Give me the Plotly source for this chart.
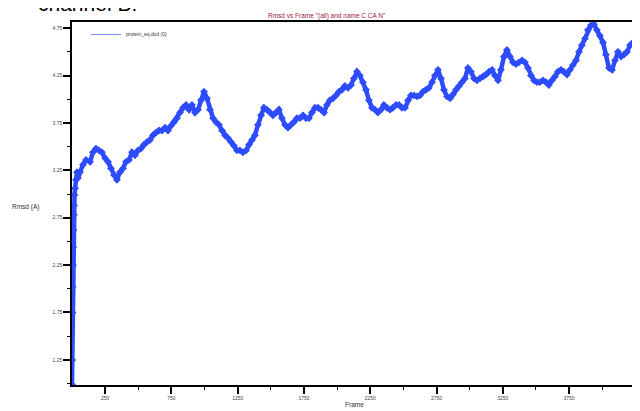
import plotly.graph_objects as go

frames = [0, 2, 4, 5, 8, 9, 11, 14, 15, 19, 23, 30, 38, 45, 60, 83, 106, 136, 158, 181, 204, 226, 249, 272, 294, 317, 339,
          362, 385, 407, 430, 453, 475, 498, 520, 543, 566, 588, 611, 634, 656, 679, 702, 724, 747, 770, 792, 815, 838,
          860, 883, 905, 928, 951, 973, 996, 1018, 1041, 1064, 1086, 1109, 1132, 1154, 1177, 1199, 1222, 1245, 1267,
          1290, 1313, 1335, 1358, 1380, 1403, 1426, 1448, 1471, 1494, 1516, 1539, 1561, 1584, 1607, 1629, 1652, 1675,
          1697, 1720, 1743, 1765, 1788, 1810, 1833, 1856, 1878, 1901, 1923, 1946, 1969, 1991, 2014, 2037, 2059, 2082,
          2105, 2127, 2150, 2172, 2195, 2218, 2240, 2263, 2286, 2308, 2331, 2353, 2376, 2399, 2421, 2444, 2467, 2489,
          2512, 2535, 2557, 2580, 2603, 2625, 2648, 2671, 2693, 2716, 2738, 2761, 2784, 2806, 2829, 2852, 2874, 2897,
          2920, 2942, 2965, 2987, 3010, 3033, 3055, 3078, 3101, 3123, 3146, 3169, 3191, 3214, 3236, 3259, 3281, 3304,
          3327, 3349, 3372, 3395, 3417, 3440, 3462, 3485, 3508, 3530, 3553, 3576, 3598, 3621, 3644, 3666, 3689, 3711,
          3734, 3757, 3779, 3802, 3825, 3847, 3870, 3892, 3915, 3938, 3960, 3983, 4006, 4028, 4051, 4074, 4096, 4119,
          4142, 4164, 4187, 4210, 4232, 4255]
rmsd = [0.99, 1.25, 1.75, 2.02, 2.25, 2.44, 2.62, 2.78, 2.88, 2.99, 3.06, 3.15, 3.23, 3.17, 3.23, 3.31, 3.36, 3.34, 3.44,
        3.48, 3.46, 3.44, 3.38, 3.34, 3.27, 3.20, 3.15, 3.23, 3.27, 3.34, 3.36, 3.44, 3.41, 3.46, 3.48, 3.52, 3.55,
        3.57, 3.62, 3.65, 3.67, 3.67, 3.70, 3.67, 3.72, 3.76, 3.80, 3.86, 3.91, 3.94, 3.89, 3.94, 3.86, 3.89, 3.99,
        4.08, 4.01, 3.89, 3.80, 3.76, 3.73, 3.67, 3.62, 3.59, 3.55, 3.51, 3.46, 3.46, 3.44, 3.46, 3.52, 3.57, 3.62,
        3.73, 3.83, 3.91, 3.89, 3.86, 3.83, 3.86, 3.89, 3.80, 3.73, 3.70, 3.73, 3.76, 3.80, 3.80, 3.83, 3.80, 3.80,
        3.86, 3.91, 3.91, 3.89, 3.86, 3.94, 3.99, 4.01, 4.04, 4.08, 4.10, 4.14, 4.12, 4.15, 4.22, 4.29, 4.25, 4.18,
        4.10, 3.99, 3.91, 3.89, 3.86, 3.89, 3.94, 3.91, 3.89, 3.91, 3.94, 3.94, 3.91, 3.91, 3.99, 4.04, 4.04, 4.03,
        4.04, 4.08, 4.10, 4.12, 4.18, 4.25, 4.31, 4.22, 4.10, 4.03, 4.01, 4.05, 4.10, 4.14, 4.18, 4.22, 4.33, 4.29,
        4.22, 4.20, 4.22, 4.24, 4.26, 4.29, 4.31, 4.25, 4.20, 4.31, 4.45, 4.52, 4.45, 4.39, 4.37, 4.39, 4.41, 4.39,
        4.33, 4.25, 4.20, 4.18, 4.18, 4.20, 4.18, 4.15, 4.20, 4.24, 4.29, 4.31, 4.29, 4.26, 4.31, 4.36, 4.41, 4.50,
        4.57, 4.64, 4.73, 4.78, 4.79, 4.73, 4.67, 4.60, 4.47, 4.33, 4.31, 4.41, 4.50, 4.45, 4.47, 4.50, 4.57, 4.60,
        4.52]

x_major = [250, 750, 1250, 1750, 2250, 2750, 3250, 3750]
x_minor = [500, 1000, 1500, 2000, 2500, 3000, 3500, 4000]
y_major = [1.25, 1.75, 2.25, 2.75, 3.25, 3.75, 4.25, 4.75]
y_minor = [1.0, 1.5, 2.0, 2.5, 3.0, 3.5, 4.0, 4.5]

series_name = "protein_eq.dcd (0)"
title_text = 'Rmsd vs Frame "(all) and name C CA N"'

blue = "rgb(45,75,255)"

fig = go.Figure()
# thin line: legend entry
fig.add_trace(go.Scatter(x=frames, y=rmsd, mode="lines", name=series_name,
                         line=dict(color="rgb(120,140,255)", width=1), showlegend=True))
# thick dotted band
fig.add_trace(go.Scatter(x=frames, y=rmsd, mode="lines+markers", showlegend=False,
                         line=dict(color=blue, width=4.5),
                         marker=dict(color=blue, size=6, symbol="diamond")))

OFF = 8  # page body margin
W, H = 640 - OFF, 411 - OFF
L, R, T, B = 72 - OFF, 4, 22 - OFF, 26
pw, ph = W - L - R, H - T - B

def px(xp):
    return (xp - OFF - L) / pw

def py(yp):
    return 1 - (yp - OFF - T) / ph

font_fam = "Liberation Sans, Arial, sans-serif"
axis_common = dict(showgrid=False, zeroline=False, showline=True, linecolor="black", linewidth=1.5,
                   ticks="outside", ticklen=7, tickwidth=1.5, tickcolor="black",
                   tickfont=dict(size=5, color="#444", family=font_fam), mirror=True)

fig.update_layout(
    width=W, height=H, margin=dict(l=L, r=R, t=T, b=B, autoexpand=False),
    paper_bgcolor="white", plot_bgcolor="white",
    xaxis=dict(range=[0, 4255], tickvals=x_major, ticktext=[str(v) for v in x_major],
               minor=dict(tickvals=x_minor, ticks="outside", ticklen=3, tickwidth=1.2, tickcolor="black"),
               **axis_common),
    yaxis=dict(range=[0.985, 4.815], tickvals=y_major, ticktext=[f"{v:.2f}" for v in y_major],
               minor=dict(tickvals=y_minor, ticks="outside", ticklen=3, tickwidth=1.2, tickcolor="black"),
               **axis_common),
    legend=dict(x=px(86), y=py(20), xanchor="left", yanchor="top", bgcolor="rgba(0,0,0,0)",
                font=dict(size=5, color="#333", family=font_fam), itemwidth=30),
    showlegend=True,
    annotations=[
        dict(text=title_text, x=px(327), y=py(16), xref="paper", yref="paper", showarrow=False,
             font=dict(size=6.5, color="#a0203a", family=font_fam), xanchor="center", yanchor="middle"),
        dict(text="Rmsd (A)", x=px(26), y=py(207), xref="paper", yref="paper", showarrow=False,
             font=dict(size=6.5, color="#333", family=font_fam), xanchor="center", yanchor="middle"),
        dict(text="Frame", x=px(354), y=py(405), xref="paper", yref="paper", showarrow=False,
             font=dict(size=6.5, color="#333", family=font_fam), xanchor="center", yanchor="middle"),
        dict(text="channel B:", x=px(36), y=py(4), xref="paper", yref="paper", showarrow=False,
             font=dict(size=21, color="black", family=font_fam), xanchor="left", yanchor="middle"),
    ],
)

fig.write_html("out.html")
